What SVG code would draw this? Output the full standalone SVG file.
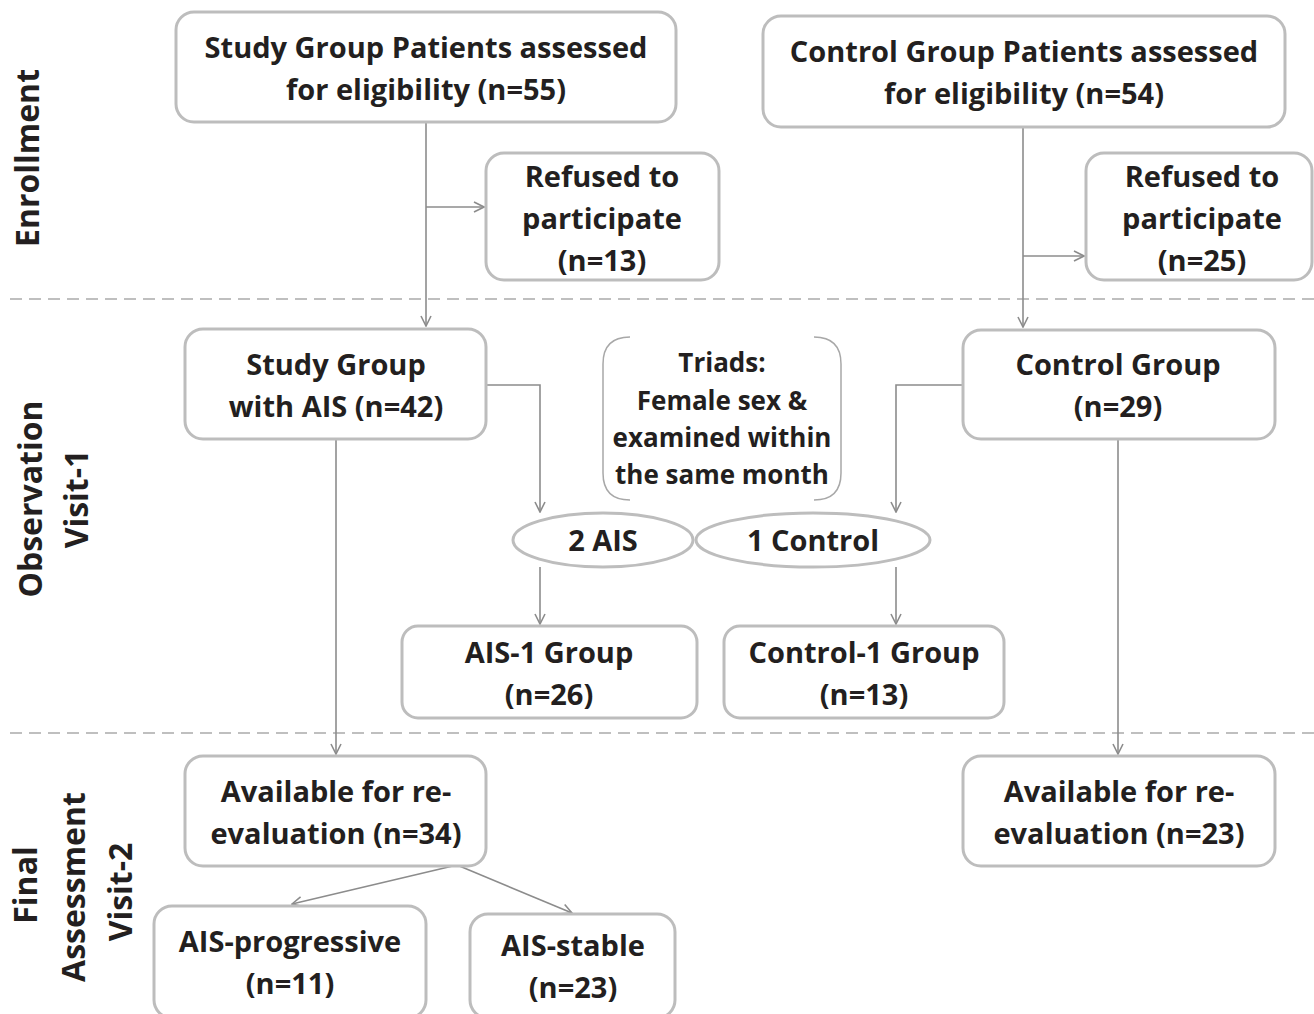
<svg xmlns="http://www.w3.org/2000/svg" width="1314" height="1014" viewBox="0 0 1314 1014">
<defs>
<marker id="arr" viewBox="0 0 12 12" refX="11" refY="6" markerWidth="12" markerHeight="12" markerUnits="userSpaceOnUse" orient="auto">
<path d="M1,1 L11,6 L1,11" fill="none" stroke="#8c8c8c" stroke-width="1.6"/>
</marker>
<style>
.box{fill:#fff;stroke:#bdbdbd;stroke-width:3}
.t{font-family:"Open Sans",Lato,sans-serif;font-weight:700;font-size:29px;fill:#231f20;text-anchor:middle}
.ts{font-size:26px}
.tl{font-size:32px}
.c{fill:none;stroke:#8c8c8c;stroke-width:1.6}
.dash{stroke:#aaaaaa;stroke-width:1.5;stroke-dasharray:12 7}
</style>
</defs>
<rect width="1314" height="1014" fill="#fff"/>
<line class="dash" x1="10" y1="299" x2="1314" y2="299"/>
<line class="dash" x1="10" y1="733" x2="1314" y2="733"/>

<g id="labels">
<text class="t tl" transform="translate(39,158) rotate(-90)">Enrollment</text>
<text class="t tl" transform="translate(42,499) rotate(-90)">Observation</text>
<text class="t tl" transform="translate(88,499) rotate(-90)">Visit-1</text>
<text class="t tl" transform="translate(37,885) rotate(-90)">Final</text>
<text class="t tl" transform="translate(85,887) rotate(-90)">Assessment</text>
<text class="t tl" transform="translate(132,892) rotate(-90)">Visit-2</text>
</g>

<g id="connectors">
<path class="c" d="M426,122 V326" marker-end="url(#arr)"/>
<path class="c" d="M426,207 H484" marker-end="url(#arr)"/>
<path class="c" d="M1023,127 V327" marker-end="url(#arr)"/>
<path class="c" d="M1023,256 H1084" marker-end="url(#arr)"/>
<path class="c" d="M486,385 H540 V512" marker-end="url(#arr)"/>
<path class="c" d="M963,385 H896 V512" marker-end="url(#arr)"/>
<path class="c" d="M540,567 V624" marker-end="url(#arr)"/>
<path class="c" d="M896,567 V624" marker-end="url(#arr)"/>
<path class="c" d="M336,439 V754" marker-end="url(#arr)"/>
<path class="c" d="M1118,439 V754" marker-end="url(#arr)"/>
<path class="c" d="M457,865 L292,904" marker-end="url(#arr)"/>
<path class="c" d="M457,865 L572,913" marker-end="url(#arr)"/>
</g>

<g id="n_study_assessed">
<rect class="box" x="176" y="12" width="500" height="110" rx="18"/>
<text class="t" x="426" y="58">Study Group Patients assessed</text>
<text class="t" x="426" y="100">for eligibility (n=55)</text>
</g>
<g id="n_control_assessed">
<rect class="box" x="763" y="16" width="522" height="111" rx="18"/>
<text class="t" x="1024" y="62">Control Group Patients assessed</text>
<text class="t" x="1024" y="104">for eligibility (n=54)</text>
</g>
<g id="n_refused1">
<rect class="box" x="486" y="153" width="233" height="127" rx="18"/>
<text class="t" x="602" y="187">Refused to</text>
<text class="t" x="602" y="229">participate</text>
<text class="t" x="602" y="271">(n=13)</text>
</g>
<g id="n_refused2">
<rect class="box" x="1086" y="153" width="226" height="127" rx="18"/>
<text class="t" x="1202" y="187">Refused to</text>
<text class="t" x="1202" y="229">participate</text>
<text class="t" x="1202" y="271">(n=25)</text>
</g>
<g id="n_study_ais">
<rect class="box" x="185" y="329" width="301" height="110" rx="18"/>
<text class="t" x="336" y="375">Study Group</text>
<text class="t" x="336" y="417">with AIS (n=42)</text>
</g>
<g id="n_triads">
<path fill="none" stroke="#a8a8a8" stroke-width="1.5" d="M630,337 Q603,337 603,364 V473 Q603,500 630,500 M814,337 Q841,337 841,364 V473 Q841,500 814,500"/>
<text class="t ts" x="722" y="372">Triads:</text>
<text class="t ts" x="722" y="410">Female sex &amp;</text>
<text class="t ts" x="722" y="447">examined within</text>
<text class="t ts" x="722" y="484">the same month</text>
</g>
<g id="n_control">
<rect class="box" x="963" y="330" width="312" height="109" rx="18"/>
<text class="t" x="1118" y="375">Control Group</text>
<text class="t" x="1118" y="417">(n=29)</text>
</g>
<g id="n_2ais">
<ellipse class="box" cx="603" cy="540" rx="90" ry="27"/>
<text class="t" x="603" y="551">2 AIS</text>
</g>
<g id="n_1control">
<ellipse class="box" cx="813" cy="540" rx="117" ry="27"/>
<text class="t" x="813" y="551">1 Control</text>
</g>
<g id="n_ais1">
<rect class="box" x="402" y="626" width="295" height="92" rx="16"/>
<text class="t" x="549" y="663">AIS-1 Group</text>
<text class="t" x="549" y="705">(n=26)</text>
</g>
<g id="n_control1">
<rect class="box" x="724" y="626" width="280" height="92" rx="16"/>
<text class="t" x="864" y="663">Control-1 Group</text>
<text class="t" x="864" y="705">(n=13)</text>
</g>
<g id="n_avail_left">
<rect class="box" x="185" y="756" width="301" height="110" rx="18"/>
<text class="t" x="336" y="802">Available for re-</text>
<text class="t" x="336" y="844">evaluation (n=34)</text>
</g>
<g id="n_avail_right">
<rect class="box" x="963" y="756" width="312" height="110" rx="18"/>
<text class="t" x="1119" y="802">Available for re-</text>
<text class="t" x="1119" y="844">evaluation (n=23)</text>
</g>
<g id="n_progressive">
<rect class="box" x="154" y="906" width="272" height="112" rx="18"/>
<text class="t" x="290" y="952">AIS-progressive</text>
<text class="t" x="290" y="994">(n=11)</text>
</g>
<g id="n_stable">
<rect class="box" x="470" y="914" width="205" height="104" rx="18"/>
<text class="t" x="573" y="956">AIS-stable</text>
<text class="t" x="573" y="998">(n=23)</text>
</g>
</svg>
